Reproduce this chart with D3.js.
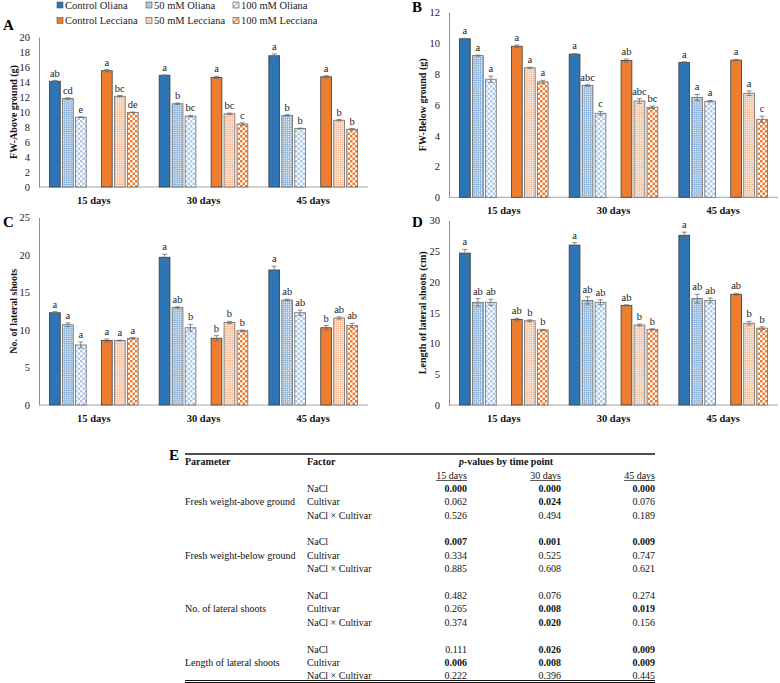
<!DOCTYPE html>
<html>
<head>
<meta charset="utf-8">
<script src="https://cdn.jsdelivr.net/npm/d3@7"></script>
<style>
  body { margin: 0; background: #fff; }
  svg { display: block; }
  svg text { font-family: "Liberation Serif", "Times New Roman", serif; }
</style>
</head>
<body>
<svg id="fig" width="780" height="683" font-family="Liberation Serif, Times New Roman, serif"></svg>
<script>
// ---- dados ----
const days = ["15 days", "30 days", "45 days"];
const series = ["Control Oliana", "50 mM Oliana", "100 mM Oliana",
                "Control Lecciana", "50 mM Lecciana", "100 mM Lecciana"];
// slot vazio entre as duas cultivares
const slots = ["Control Oliana", "50 mM Oliana", "100 mM Oliana", "gap",
               "Control Lecciana", "50 mM Lecciana", "100 mM Lecciana"];

// valores [dia][série]
const fwAbove = [[14.1, 11.8, 9.3, 15.5, 12.1, 9.95],
                 [14.9, 11.1, 9.45, 14.6, 9.75, 8.4],
                 [17.5, 9.55, 7.8, 14.7, 8.9, 7.7]];
const fwAboveErr = [[0.1, 0.1, 0.05, 0.15, 0.1, 0.05],
                    [0.05, 0.1, 0.1, 0.15, 0.1, 0.15],
                    [0.25, 0.1, 0.05, 0.15, 0.1, 0.1]];
const fwAboveLetters = [["ab", "cd", "e", "a", "bc", "de"],
                        ["a", "b", "bc", "a", "bc", "c"],
                        ["a", "b", "b", "a", "b", "b"]];

const fwBelow = [[10.28, 9.19, 7.66, 9.8, 8.4, 7.49],
                 [9.28, 7.25, 5.45, 8.87, 6.25, 5.84],
                 [8.74, 6.47, 6.23, 8.9, 6.75, 5.06]];
const fwBelowErr = [[0.03, 0.03, 0.2, 0.08, 0.03, 0.1],
                    [0.05, 0.05, 0.12, 0.1, 0.15, 0.08],
                    [0.05, 0.2, 0.05, 0.05, 0.15, 0.2]];
const fwBelowLetters = [["a", "a", "a", "a", "a", "a"],
                        ["a", "abc", "c", "ab", "abc", "bc"],
                        ["a", "a", "a", "a", "a", "c"]];

const shootNo = [[12.3, 10.7, 8.0, 8.6, 8.6, 8.9],
                 [19.7, 13.0, 10.3, 8.9, 11.0, 9.9],
                 [18.0, 14.0, 12.3, 10.3, 11.6, 10.6]];
const shootNoErr = [[0.15, 0.25, 0.4, 0.2, 0.05, 0.1],
                    [0.4, 0.1, 0.45, 0.35, 0.15, 0.1],
                    [0.5, 0.1, 0.35, 0.3, 0.15, 0.3]];
const shootNoLetters = [["a", "a", "a", "a", "a", "a"],
                        ["a", "ab", "b", "b", "b", "b"],
                        ["a", "ab", "ab", "b", "ab", "ab"]];

const shootLen = [[24.7, 16.7, 16.7, 13.9, 13.7, 12.2],
                  [26.0, 17.0, 16.7, 16.2, 13.0, 12.3],
                  [27.6, 17.3, 17.0, 18.0, 13.3, 12.5]];
const shootLenErr = [[0.6, 0.6, 0.5, 0.2, 0.15, 0.1],
                     [0.4, 0.6, 0.4, 0.1, 0.15, 0.1],
                     [0.5, 0.7, 0.4, 0.15, 0.3, 0.2]];
const shootLenLetters = [["a", "ab", "ab", "ab", "b", "b"],
                         ["a", "ab", "ab", "ab", "b", "b"],
                         ["a", "ab", "ab", "ab", "b", "b"]];

// tabela E
const params = ["Fresh weight-above ground", "Fresh weight-below ground",
                "No. of lateral shoots", "Length of lateral shoots"];
const factors = ["NaCl", "Cultivar", "NaCl × Cultivar"];
const pValues = [
  [[0.000, 0.000, 0.000], [0.062, 0.024, 0.076], [0.526, 0.494, 0.189]],
  [[0.007, 0.001, 0.009], [0.334, 0.525, 0.747], [0.885, 0.608, 0.621]],
  [[0.482, 0.076, 0.274], [0.265, 0.008, 0.019], [0.374, 0.020, 0.156]],
  [[0.111, 0.026, 0.009], [0.006, 0.008, 0.009], [0.222, 0.396, 0.445]]
];

// ---- estilos ----
const blue = "#2e75b6", orange = "#ed7d31";
const fills = ["solid-o", "hatch-o", "check-o", "solid-l", "hatch-l", "check-l"];
const serif = "Liberation Serif, Times New Roman, serif";

const svg = d3.select("#fig");
const defs = svg.append("defs");

function hatch(id, color) {
  const p = defs.append("pattern").attr("id", id)
    .attr("patternUnits", "userSpaceOnUse").attr("width", 3).attr("height", 3)
    .attr("patternTransform", "rotate(45)");
  p.append("rect").attr("width", 3).attr("height", 3).attr("fill", color);
  p.append("rect").attr("width", 1.5).attr("height", 1.5).attr("fill", "#fff");
  p.append("rect").attr("x", 1.5).attr("y", 1.5).attr("width", 1.5).attr("height", 1.5).attr("fill", "#fff");
}
function check(id, color) {
  const p = defs.append("pattern").attr("id", id)
    .attr("patternUnits", "userSpaceOnUse").attr("width", 5).attr("height", 5);
  p.append("rect").attr("width", 5).attr("height", 5).attr("fill", "#fff");
  p.append("rect").attr("width", 2.5).attr("height", 2.5).attr("fill", color);
  p.append("rect").attr("x", 2.5).attr("y", 2.5).attr("width", 2.5).attr("height", 2.5).attr("fill", color);
}
hatch("hatch-o", "#5b93cc");
check("check-o", "#a9c9ea");
hatch("hatch-l", "#f2a675");
check("check-l", orange);
const fillOf = i => i === 0 ? blue : i === 3 ? orange : "url(#" + fills[i] + ")";

// ---- painéis ----
const panels = [
  { vals: fwAbove, err: fwAboveErr, lets: fwAboveLetters, max: 20, step: 2,
    x: [39, 368], y: [187, 37], title: "FW-Above ground (g)", tx: 13, tag: "A", tagPos: [3, 30], cat: 203.5 },
  { vals: fwBelow, err: fwBelowErr, lets: fwBelowLetters, max: 12, step: 2,
    x: [449, 778], y: [197.3, 12.3], title: "FW-Below ground (g)", tx: 422, tag: "B", tagPos: [412, 12], cat: 213.5 },
  { vals: shootNo, err: shootNoErr, lets: shootNoLetters, max: 25, step: 5,
    x: [39, 368], y: [405, 217.5], title: "No. of lateral shoots", tx: 13, tag: "C", tagPos: [3, 227], cat: 421.5 },
  { vals: shootLen, err: shootLenErr, lets: shootLenLetters, max: 30, step: 5,
    x: [449, 778], y: [405, 220.5], title: "Length of lateral shoots (cm)", tx: 422, tag: "D", tagPos: [412, 227], cat: 421.5 }
];

panels.forEach(p => {
  const g = svg.append("g");
  const x0 = d3.scaleBand().domain(days).range(p.x);
  const x1 = d3.scaleBand().domain(slots).range([0, x0.bandwidth()])
    .paddingInner(0.17).paddingOuter(0.81);
  const y = d3.scaleLinear().domain([0, p.max]).range(p.y);

  // eixo y
  const ya = g.append("g").attr("transform", `translate(${p.x[0]},0)`)
    .call(d3.axisLeft(y).tickValues(d3.range(0, p.max + 0.01, p.step))
      .tickSize(0).tickPadding(9));
  ya.attr("font-family", serif);
  ya.select(".domain").attr("stroke", "#8c8c8c");
  ya.selectAll("text").attr("font-size", 10.5).attr("fill", "#222");

  // eixo x
  g.append("line").attr("x1", p.x[0]).attr("x2", p.x[1])
    .attr("y1", y(0)).attr("y2", y(0)).attr("stroke", "#a6a6a6");
  g.selectAll(".cat").data(days).join("text")
    .attr("x", d => x0(d) + x0.bandwidth() / 2).attr("y", p.cat)
    .attr("text-anchor", "middle").attr("font-size", 10.5).attr("font-weight", "bold")
    .attr("fill", "#111").text(d => d);

  // barras
  const rows = [];
  days.forEach((d, di) => series.forEach((s, si) => rows.push({
    day: d, s, si, v: p.vals[di][si], e: p.err[di][si], lab: p.lets[di][si]
  })));
  const bx = d => x0(d.day) + x1(d.s);
  g.selectAll(".bar").data(rows).join("rect")
    .attr("x", bx).attr("y", d => y(d.v))
    .attr("width", x1.bandwidth()).attr("height", d => y(0) - y(d.v))
    .attr("fill", d => fillOf(d.si))
    .attr("stroke", d => d.si === 0 || d.si === 3 ? "#3b3b3b" : "#6b6b6b")
    .attr("stroke-width", 0.8);

  // barras de erro
  const eb = g.selectAll(".err").data(rows).join("g").attr("stroke", "#6f6f6f").attr("stroke-width", 0.8);
  const cx = d => bx(d) + x1.bandwidth() / 2;
  eb.append("line").attr("x1", cx).attr("x2", cx)
    .attr("y1", d => y(d.v - d.e)).attr("y2", d => y(d.v + d.e));
  eb.append("line").attr("x1", d => cx(d) - 2.5).attr("x2", d => cx(d) + 2.5)
    .attr("y1", d => y(d.v + d.e)).attr("y2", d => y(d.v + d.e));
  eb.append("line").attr("x1", d => cx(d) - 2.5).attr("x2", d => cx(d) + 2.5)
    .attr("y1", d => y(d.v - d.e)).attr("y2", d => y(d.v - d.e));

  // letras
  g.selectAll(".lab").data(rows).join("text")
    .attr("x", cx).attr("y", d => y(d.v + d.e) - 4)
    .attr("text-anchor", "middle").attr("font-size", 10.5).attr("fill", "#222")
    .text(d => d.lab);

  // título y
  g.append("text")
    .attr("transform", `translate(${p.tx},${(p.y[0] + p.y[1]) / 2}) rotate(-90)`)
    .attr("dy", "0.35em").attr("text-anchor", "middle")
    .attr("font-size", 10).attr("font-weight", "bold").attr("fill", "#111")
    .text(p.title);

  // letra do painel
  svg.append("text").attr("x", p.tagPos[0]).attr("y", p.tagPos[1])
    .attr("font-size", 15).attr("font-weight", "bold").text(p.tag);
});

// ---- legenda ----
const legCols = [57, 146, 233], legRows = [5, 20.5];
const leg = svg.append("g").selectAll("g").data(series).join("g")
  .attr("transform", (d, i) => `translate(${legCols[i % 3]},${legRows[Math.floor(i / 3)]})`);
leg.append("rect").attr("x", 0).attr("y", -3).attr("width", 6).attr("height", 6)
  .attr("fill", (d, i) => fillOf(i)).attr("stroke", "#555").attr("stroke-width", 0.6);
leg.append("text").attr("x", 8).attr("dy", "0.35em")
  .attr("font-size", 10.5).attr("fill", "#222").text(d => d);

// ---- tabela E ----
const t = svg.append("g").attr("font-size", 10).attr("fill", "#111");
const colX = { param: 185, factor: 307, vals: [467, 561, 655] };
svg.append("text").attr("x", 169).attr("y", 460).attr("font-size", 15)
  .attr("font-weight", "bold").text("E");
t.append("line").attr("x1", 185).attr("x2", 655).attr("y1", 454).attr("y2", 454)
  .attr("stroke", "#111").attr("stroke-width", 1.4);
t.append("text").attr("x", colX.param).attr("y", 465).attr("font-weight", "bold").text("Parameter");
t.append("text").attr("x", colX.factor).attr("y", 465).attr("font-weight", "bold").text("Factor");
const ph = t.append("text").attr("x", 506).attr("y", 465).attr("text-anchor", "middle").attr("font-weight", "bold");
ph.append("tspan").attr("font-style", "italic").text("p");
ph.append("tspan").text("-values by time point");

days.forEach((d, i) => {
  const tx = t.append("text").attr("x", colX.vals[i]).attr("y", 478.5)
    .attr("text-anchor", "end").text(d);
  const w = tx.node().getComputedTextLength();
  t.append("line").attr("x1", colX.vals[i] - w).attr("x2", colX.vals[i])
    .attr("y1", 480.5).attr("y2", 480.5).attr("stroke", "#111").attr("stroke-width", 0.7);
});

const fmt = d3.format(".3f");
params.forEach((p, pi) => {
  const y0 = 491.8 + pi * 53.6;
  t.append("text").attr("x", colX.param).attr("y", y0 + 13.4).text(p);
  factors.forEach((f, fi) => {
    const yy = y0 + fi * 13.4;
    t.append("text").attr("x", colX.factor).attr("y", yy).text(f);
    pValues[pi][fi].forEach((v, vi) => {
      t.append("text").attr("x", colX.vals[vi]).attr("y", yy)
        .attr("text-anchor", "end")
        .attr("font-weight", v < 0.05 ? "bold" : "normal")
        .text(fmt(v));
    });
  });
});
t.append("line").attr("x1", 185).attr("x2", 655).attr("y1", 680.5).attr("y2", 680.5)
  .attr("stroke", "#111").attr("stroke-width", 1);
t.append("line").attr("x1", 185).attr("x2", 655).attr("y1", 682.5).attr("y2", 682.5)
  .attr("stroke", "#111").attr("stroke-width", 1);
</script>
</body>
</html>
